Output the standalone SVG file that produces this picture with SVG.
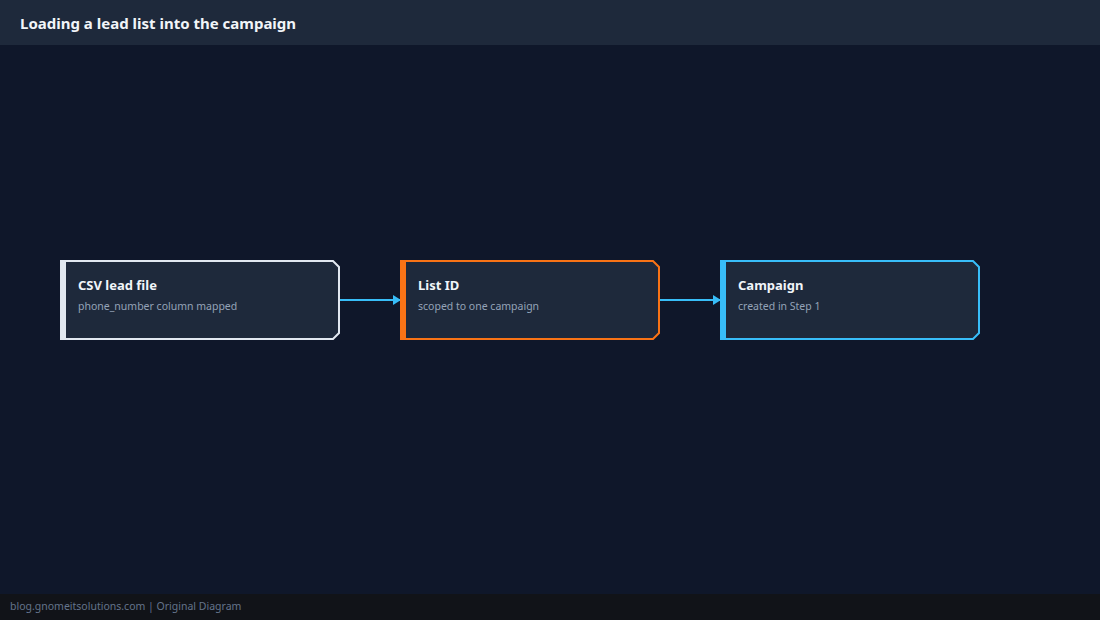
<svg xmlns="http://www.w3.org/2000/svg" width="1100" height="620" viewBox="0 0 1100 620">
<defs>
<style>
.t{font-family:"Noto Sans","DejaVu Sans",sans-serif;font-size:13px;font-weight:bold;fill:#f1f5f9}
.s{font-family:"Noto Sans","DejaVu Sans",sans-serif;font-size:10.5px;fill:#94a3b8}
.box{fill:#1e293b;stroke-width:2}
.edge{stroke:#38bdf8;stroke-width:2;fill:none}
</style>
<marker id="ar" markerWidth="8" markerHeight="10" refX="8" refY="5" orient="auto" markerUnits="userSpaceOnUse"><path d="M0,0L8,5L0,10Z" fill="#38bdf8"/></marker>
</defs>
<rect width="1100" height="620" fill="#0f172a"/>
<rect width="1100" height="45" fill="#1e293b"/>
<text x="20" y="29" font-family="Noto Sans,DejaVu Sans,sans-serif" font-size="15" font-weight="bold" fill="#f1f5f9">Loading a lead list into the campaign</text>
<rect y="594" width="1100" height="26" fill="#111318"/>
<text x="10" y="610" font-family="Noto Sans,DejaVu Sans,sans-serif" font-size="10.5" fill="#64748b">blog.gnomeitsolutions.com | Original Diagram</text>
<g id="connectors">
<line class="edge" x1="340" y1="300" x2="401" y2="300" marker-end="url(#ar)"/>
<line class="edge" x1="660" y1="300" x2="721" y2="300" marker-end="url(#ar)"/>
</g>
<g id="csv">
<path class="box" stroke="#e2e8f0" d="M61,261H333L339,267V333L333,339H61Z"/>
<rect x="60" y="260" width="6" height="80" fill="#e2e8f0"/>
<text class="t" x="78" y="290">CSV lead file</text>
<text class="s" x="78" y="310">phone_number column mapped</text>
</g>
<g id="listid">
<path class="box" stroke="#f97316" d="M401,261H653L659,267V333L653,339H401Z"/>
<rect x="400" y="260" width="6" height="80" fill="#f97316"/>
<text class="t" x="418" y="290">List ID</text>
<text class="s" x="418" y="310">scoped to one campaign</text>
</g>
<g id="campaign">
<path class="box" stroke="#38bdf8" d="M721,261H973L979,267V333L973,339H721Z"/>
<rect x="720" y="260" width="6" height="80" fill="#38bdf8"/>
<text class="t" x="738" y="290">Campaign</text>
<text class="s" x="738" y="310">created in Step 1</text>
</g>
</svg>
